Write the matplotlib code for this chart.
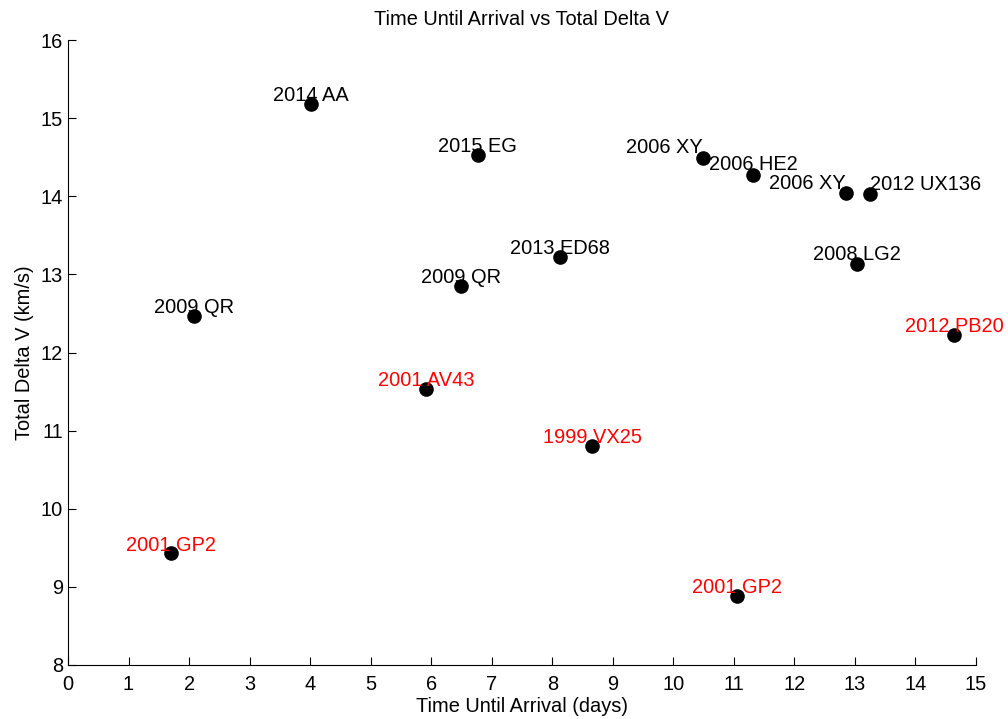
import matplotlib
matplotlib.use("Agg")
import matplotlib.pyplot as plt

# data
names = ["2014 AA", "2015 EG", "2006 XY", "2006 HE2", "2006 XY", "2012 UX136",
         "2013 ED68", "2008 LG2", "2009 QR", "2009 QR", "2012 PB20",
         "2001 AV43", "1999 VX25", "2001 GP2", "2001 GP2"]
days = [4.01, 6.77, 10.49, 11.32, 12.85, 13.25,
        8.13, 13.04, 6.49, 2.08, 14.64,
        5.91, 8.66, 1.70, 11.05]
delta_v = [15.18, 14.53, 14.49, 14.27, 14.04, 14.03,
           13.22, 13.13, 12.85, 12.47, 12.23,
           11.53, 10.80, 9.43, 8.88]
highlight = [False, False, False, False, False, False,
             False, False, False, False, True,
             True, True, True, True]

# label alignment / vertical offset (points) for each point
align = ["center", "center", "right", "center", "right", "left",
         "center", "center", "center", "center", "center",
         "center", "center", "center", "center"]
offs = [2, 2, 3.5, 3.5, 3, 3, 2, 3, 2, 2, 2, 2, 2, 2, 2]

plt.rcParams["font.family"] = ["Liberation Sans", "DejaVu Sans"]

fig = plt.figure(figsize=(10.08, 7.19), dpi=100)
ax = fig.add_axes([68/1008, 54/719, 908/1008, 625/719])

ax.plot(days, delta_v, "ko", markersize=9.5, linestyle="none")
for n, x, y, h, a, d in zip(names, days, delta_v, highlight, align, offs):
    ax.annotate(n, (x, y), xytext=(0, d), textcoords="offset points",
                ha=a, va="baseline", fontsize=14.4,
                color="red" if h else "black")

ax.set_xlim(0, 15)
ax.set_ylim(8, 16)
ax.set_xticks(range(0, 16))
ax.set_yticks(range(8, 17))
ax.tick_params(direction="in", length=6, labelsize=14.4, width=0.8)
ax.tick_params(axis="x", pad=7)
ax.tick_params(axis="y", pad=3.5)
ax.spines["top"].set_visible(False)
ax.spines["right"].set_visible(False)
ax.set_xlabel("Time Until Arrival (days)", fontsize=14.4, labelpad=2)
ax.set_ylabel("Total Delta V (km/s)", fontsize=14.4, labelpad=5)
ax.set_title("Time Until Arrival vs Total Delta V", fontsize=14.4, pad=11)

fig.savefig("out.png", dpi=100)
